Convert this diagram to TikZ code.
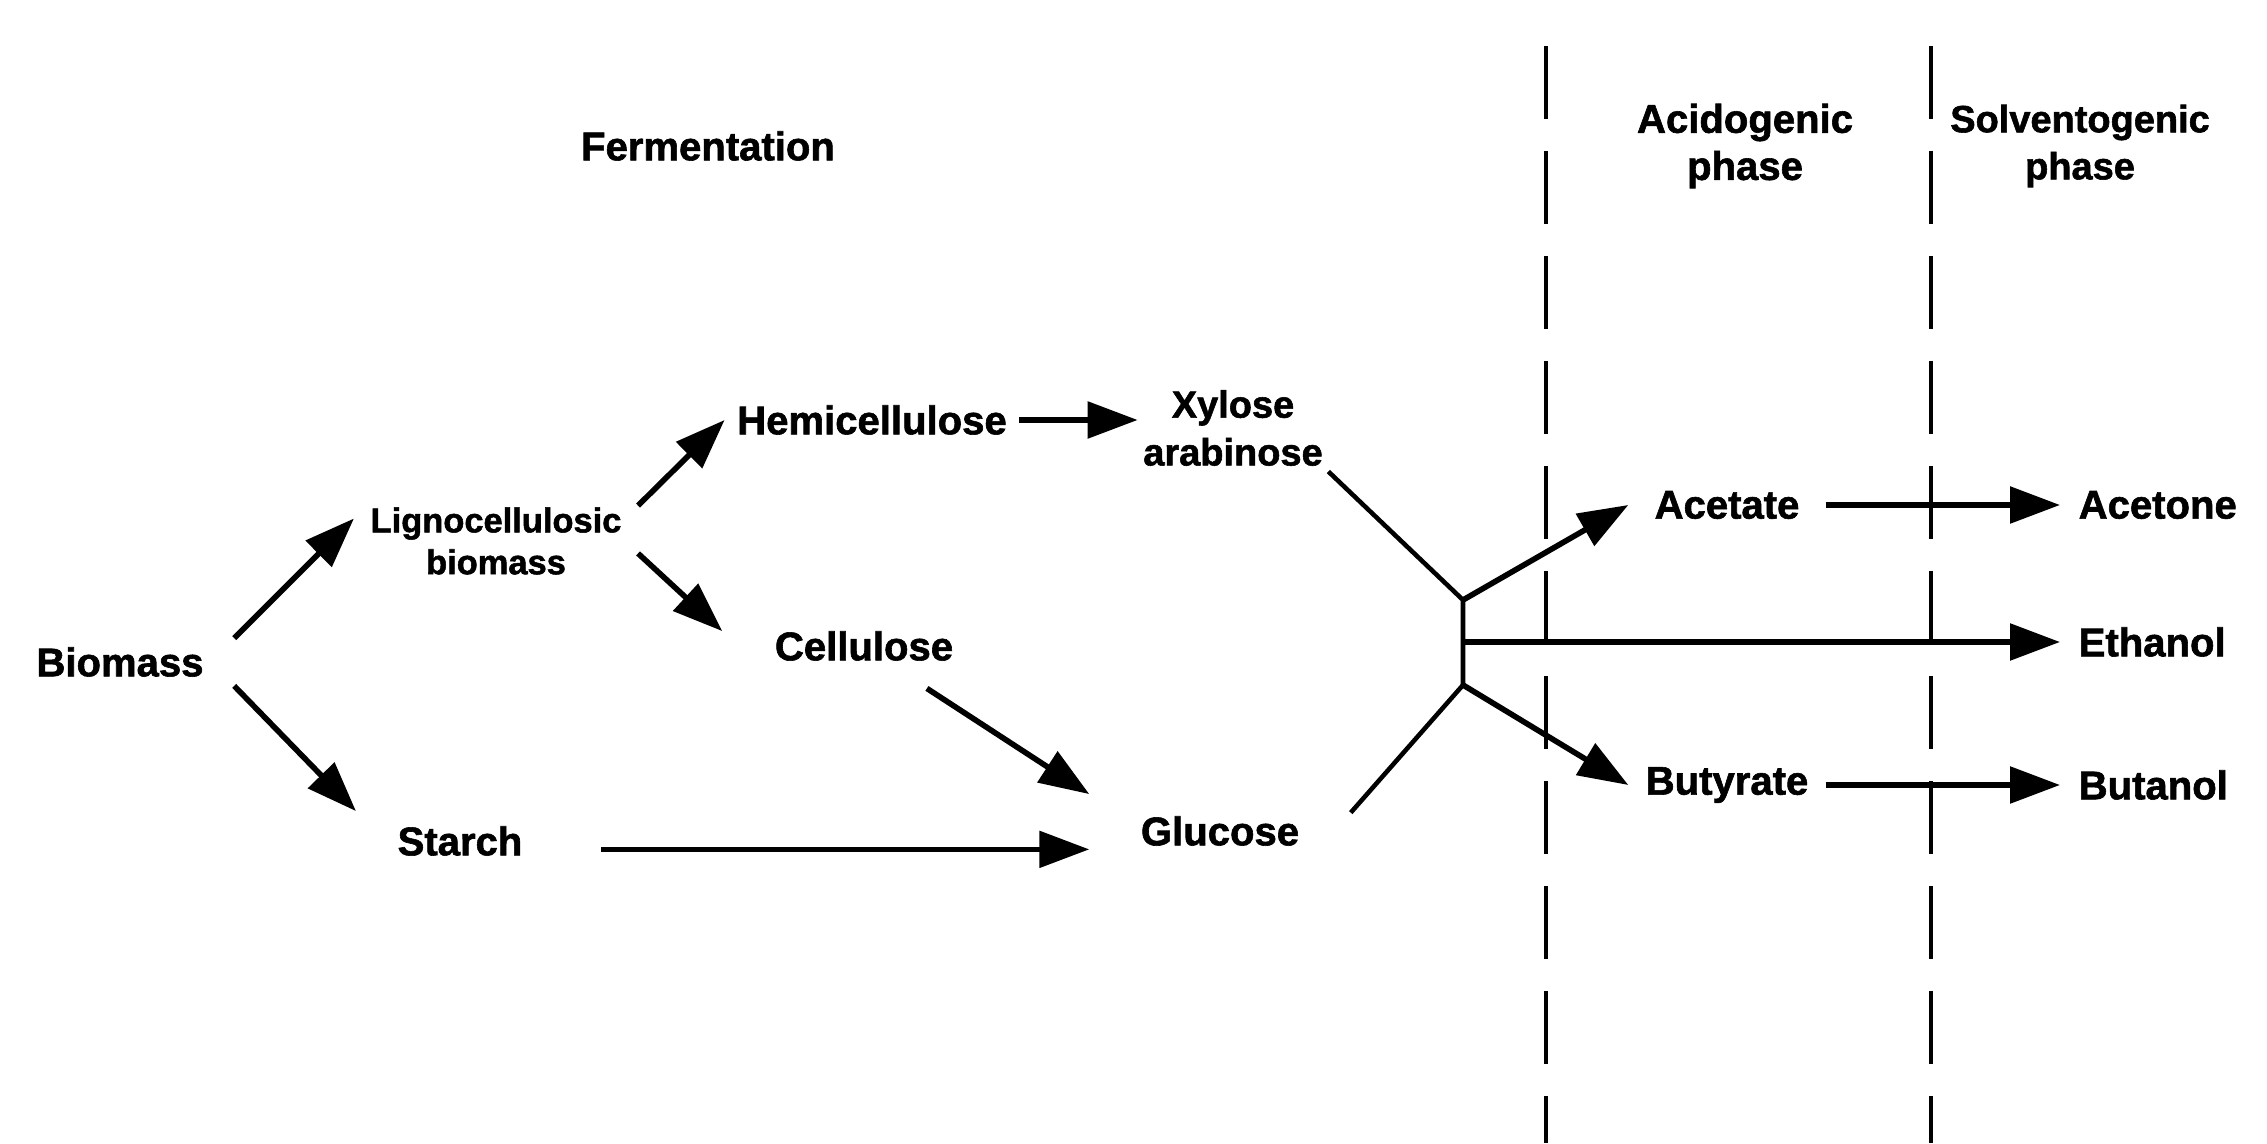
\documentclass[tikz,border=0pt]{standalone}
\usepackage{fontspec}
\setmainfont[BoldFeatures={FakeBold=1.5}]{Liberation Sans}
\usetikzlibrary{arrows.meta}

\begin{document}
\begin{tikzpicture}[
	txt/.style={font=\fontsize{11.4}{13.4}\selectfont\bfseries, align=center, inner sep=0pt},
	small/.style={font=\fontsize{9.8}{11.9}\selectfont\bfseries},
	acid/.style={txt, minimum width=1.96cm},
	solv/.style={txt, anchor=west, inner xsep=0.18cm},
	arr/.style={-{Triangle[length=0.5cm,width=0.36cm]}, line width=1.6pt},
	link/.style={line width=1.3pt},
	phase/.style={line width=1.3pt, dash pattern=on 0.73cm off 0.32cm}]
	\useasboundingbox (0,0) rectangle (22.67,11.43);

	% headings
	\node[txt] (ferm) at (7.08,9.97) {Fermentation};
	\node[txt] (acido) at (17.45,9.97) {Acidogenic\\phase};
	\node[txt, font=\fontsize{10.8}{13.4}\selectfont\bfseries] (solvo) at (20.80,9.97) {Solventogenic\\phase};

	% phase borders
	\draw[phase] (15.46,10.97) -- (15.46,0);
	\draw[phase] (19.31,10.97) -- (19.31,0);

	% substrates
	\node[txt, inner xsep=0.3cm, inner ysep=0.085cm] (bio) at (1.20,4.81) {Biomass};
	\node[txt, small, inner xsep=0.16cm, inner ysep=0.04cm] (ligno) at (4.96,6.02) {Lignocellulosic\\biomass};
	\node[txt, inner xsep=0.41cm, inner ysep=0.145cm] (starch) at (4.60,3.02) {Starch};
	\node[txt, inner xsep=0.12cm] (hemi) at (8.72,7.23) {Hemicellulose};
	\node[txt, inner xsep=0.52cm, inner ysep=0.27cm] (cell) at (8.64,4.97) {Cellulose};
	\node[txt, font=\fontsize{10.8}{13.6}\selectfont\bfseries, inner xsep=0.05cm, inner ysep=0.05cm] (xyl) at (12.33,7.15) {Xylose\\arabinose};
	\node[txt, inner xsep=0.51cm, inner ysep=0.215cm] (gluc) at (12.20,3.12) {Glucose};

	% products
	\node[acid] (acet) at (17.27,6.38) {Acetate};
	\node[acid] (buty) at (17.27,3.58) {Butyrate};
	\node[solv] (acetone) at (20.60,6.38) {Acetone};
	\node[solv] (ethan) at (20.60,5.01) {Ethanol};
	\node[solv] (butan) at (20.60,3.58) {Butanol};

	\coordinate (jtop) at (14.63,5.43);
	\coordinate (jmid) at (14.63,5.01);
	\coordinate (jbot) at (14.63,4.58);

	\draw[arr] (bio.north east) -- (ligno.171);
	\draw[arr] (bio.south east) -- (starch.north west);
	\draw[arr] (ligno.14) -- (hemi.west);
	\draw[arr] (ligno.-5) -- (cell.174);
	\draw[arr] (hemi.east) -- (hemi.east -| xyl.west);
	\draw[arr] (cell.-34) -- (gluc.north west);
	\draw[arr, shorten <=0.37cm] (starch.east |- gluc.188) -- (gluc.188);

	\draw[link] (xyl.south east) -- (jtop) -- (jbot);
	\draw[link] (gluc.8) -- (jbot);

	\draw[arr] (jtop) -- (acet.west);
	\draw[arr] (jmid) -- (ethan.west);
	\draw[arr] (jbot) -- (buty.west);
	\draw[arr] (acet.east) -- (acetone.west);
	\draw[arr] (buty.east) -- (butan.west);
\end{tikzpicture}
\end{document}
